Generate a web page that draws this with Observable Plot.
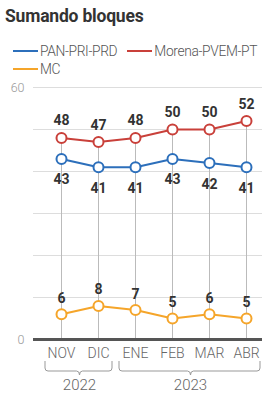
<!DOCTYPE html>
<html>
<head>
<meta charset="utf-8">
<script src="https://cdn.jsdelivr.net/npm/d3@7"></script>
<script src="https://cdn.jsdelivr.net/npm/@observablehq/plot@0.6"></script>
<style>
  html, body { margin: 0; padding: 0; background: #fff; }
  #wrap { position: relative; width: 262px; height: 394px; overflow: hidden; font-family: Roboto, "Noto Sans", sans-serif; }
  #title { position: absolute; left: 5px; top: 6px; font-size: 17.5px; font-weight: 700; color: #333; white-space: nowrap; letter-spacing: -0.2px; }
  .leg { position: absolute; left: 13px; font-size: 13.8px; font-weight: 300; color: #555; white-space: nowrap; line-height: 16px; letter-spacing: -0.35px; }
  .item { display: inline-flex; align-items: center; margin-right: 10px; }
  .sw { display: inline-block; width: 25px; height: 2px; margin-right: 2px; }
  #chart { position: absolute; left: 0; top: 75px; }
</style>
</head>
<body>
<div id="wrap">
  <div id="title">Sumando bloques</div>
  <div class="leg" id="leg1" style="top:39px"></div>
  <div class="leg" id="leg2" style="top:57px"></div>
  <div id="chart"></div>
</div>
<script>
const months = ["NOV", "DIC", "ENE", "FEB", "MAR", "ABR"];
const seriesNames = ["PAN-PRI-PRD", "Morena-PVEM-PT", "MC"];
const seriesColors = ["#2c6fbb", "#c9403a", "#f5a52a"];
const panPriPrd = [43, 41, 41, 43, 42, 41];
const morenaPvemPt = [48, 47, 48, 50, 50, 52];
const mc = [6, 8, 7, 5, 6, 5];
const years = ["2022", "2023"];
const yearFirstMonth = ["NOV", "ENE"];
const yearLastMonth = ["DIC", "ABR"];
const yTickLabels = [0, 60];
const gridValues = [10, 20, 30, 40, 50, 60];

function legItem(i) {
  return `<span class="item"><span class="sw" style="background:${seriesColors[i]}"></span>${seriesNames[i]}</span>`;
}
document.getElementById("leg1").innerHTML = legItem(0) + legItem(1);
document.getElementById("leg2").innerHTML = legItem(2);

const valuesBySeries = [panPriPrd, morenaPvemPt, mc];
const data = [];
seriesNames.forEach((s, si) => months.forEach((m, i) => data.push({series: s, month: m, value: valuesBySeries[si][i]})));
const topRows = months.map((m, i) => ({month: m, top: Math.max(panPriPrd[i], morenaPvemPt[i], mc[i])}));
const yearRows = years.map((y, i) => ({year: y, from: yearFirstMonth[i], to: yearLastMonth[i]}));
const labelDy = {"PAN-PRI-PRD": 21, "Morena-PVEM-PT": -17, "MC": -16};

function brackets(index, scales) {
  const g = d3.create("svg:g");
  const y0 = scales.y(0);
  yearRows.forEach(r => {
    const x1 = scales.x(r.from) - 16;
    const x2 = scales.x(r.to) + 14;
    const xm = (scales.x(r.from) + scales.x(r.to)) / 2;
    const top = y0 + 22, mid = y0 + 32, bot = y0 + 36;
    g.append("path")
      .attr("d", `M${x1},${top} V${mid - 3} Q${x1},${mid} ${x1 + 3},${mid} H${xm - 3} Q${xm},${mid} ${xm},${bot} Q${xm},${mid} ${xm + 3},${mid} H${x2 - 3} Q${x2},${mid} ${x2},${mid - 3} V${top}`)
      .attr("fill", "none").attr("stroke", "#999").attr("stroke-width", 1);
    g.append("text")
      .attr("x", xm).attr("y", y0 + 46).attr("dy", "0.35em")
      .attr("text-anchor", "middle").attr("fill", "#666")
      .attr("font-size", 15).attr("font-weight", 300).attr("font-family", "Roboto, sans-serif")
      .text(r.year);
  });
  return g.node();
}

const chart = Plot.plot({
  width: 262,
  height: 319,
  marginTop: 12,
  marginBottom: 55,
  marginLeft: 33,
  marginRight: 0,
  style: {fontFamily: "Roboto, sans-serif", background: "transparent"},
  x: {type: "point", domain: months, padding: 0.53, align: 0.625, label: null},
  y: {domain: [0, 60], label: null},
  color: {domain: seriesNames, range: seriesColors},
  marks: [
    Plot.ruleY(gridValues, {stroke: "#ddd", strokeWidth: 1}),
    Plot.ruleX(topRows, {x: "month", y1: 0, y2: "top", stroke: "#bbb", strokeWidth: 1}),
    Plot.ruleY([0], {stroke: "#555", strokeWidth: 3}),
    Plot.axisY({ticks: yTickLabels, tickSize: 0, tickPadding: 9, fill: "#999", fontSize: 12.5, fontWeight: 300}),
    Plot.axisX({tickSize: 0, tickPadding: 9, fill: "#666", fontSize: 14, fontWeight: 300}),
    Plot.line(data, {x: "month", y: "value", z: "series", stroke: "series", strokeWidth: 2}),
    Plot.dot(data, {x: "month", y: "value", stroke: "series", fill: "white", r: 5, strokeWidth: 2}),
    ...seriesNames.map(s => Plot.text(data.filter(d => d.series === s), {
      x: "month", y: "value", text: d => String(d.value), dy: labelDy[s],
      fill: "#333", fontSize: 14, fontWeight: "bold"
    })),
    brackets
  ]
});
document.getElementById("chart").appendChild(chart);
</script>
</body>
</html>
